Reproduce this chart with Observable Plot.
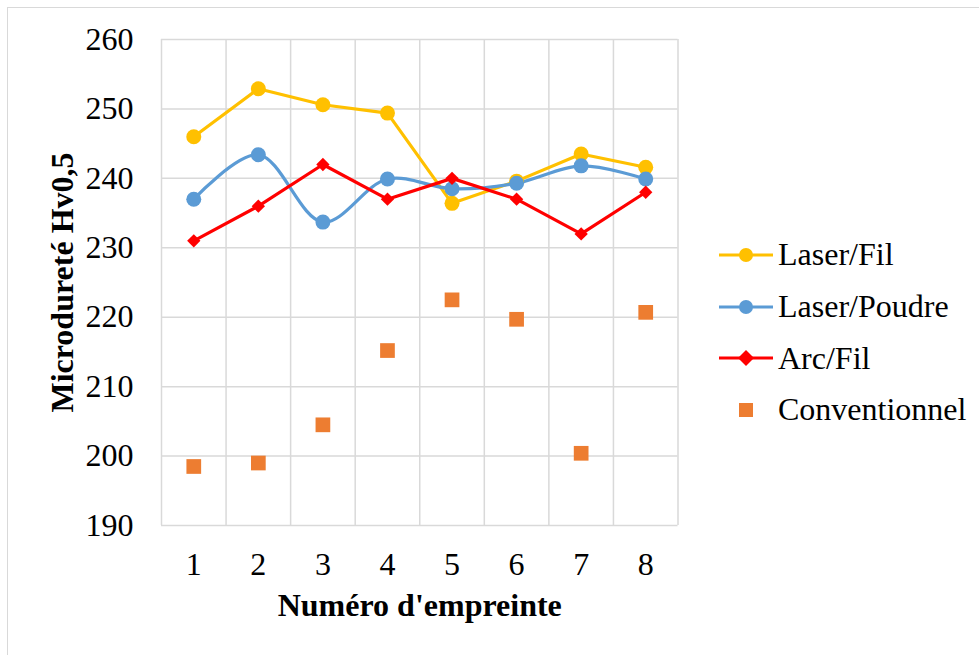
<!DOCTYPE html>
<html>
<head>
<meta charset="utf-8">
<script src="https://cdn.jsdelivr.net/npm/d3@7"></script>
<script src="https://cdn.jsdelivr.net/npm/@observablehq/plot@0.6"></script>
<style>
  html, body { margin: 0; padding: 0; background: #fff; }
  #wrap { position: relative; width: 979px; height: 655px; overflow: hidden; }
  #frame { position: absolute; left: 7px; top: 7px; width: 990px; height: 700px; border: 1.5px solid #d9d9d9; box-sizing: border-box; }
  #legend { position: absolute; left: 718px; top: 229px; font-family: "Liberation Serif", "Times New Roman", serif; font-size: 32px; color: #000; }
  .item { display: flex; align-items: center; height: 51.7px; }
  .item svg { margin-right: 4px; }
</style>
</head>
<body>
<div id="wrap">
  <div id="frame"></div>
  <div id="chart"></div>
  <div id="legend"></div>
</div>
<script>
const categories = [1, 2, 3, 4, 5, 6, 7, 8];
const laserFil    = [246.0, 252.9, 250.6, 249.4, 236.4, 239.6, 243.5, 241.6];
const laserPoudre = [237.0, 243.4, 233.7, 239.9, 238.5, 239.3, 241.8, 239.9];
const arcFil      = [231.0, 236.0, 242.0, 237.0, 240.0, 237.0, 232.0, 238.0];
const conventionnel = [198.5, 199.0, 204.5, 215.2, 222.5, 219.7, 200.4, 220.7];
const yTicks = [190, 200, 210, 220, 230, 240, 250, 260];
const seriesNames = ["Laser/Fil", "Laser/Poudre", "Arc/Fil", "Conventionnel"];
const seriesColors = ["#FFC000", "#5B9BD5", "#FF0000", "#ED7D31"];

const toRows = (vals, name) => categories.map((c, i) => ({x: c, y: vals[i], s: name}));
const rowsLF = toRows(laserFil, seriesNames[0]);
const rowsLP = toRows(laserPoudre, seriesNames[1]);
const rowsAF = toRows(arcFil, seriesNames[2]);
const rowsCV = toRows(conventionnel, seriesNames[3]);
const bandEdges = [categories[0] - 0.5, ...categories.map(c => c + 0.5)];

const font = '"Liberation Serif", "Times New Roman", serif';

const chart = Plot.plot({
  width: 979,
  height: 655,
  marginLeft: 161,
  marginRight: 301.5,
  marginTop: 39,
  marginBottom: 130,
  style: {fontFamily: font, fontSize: "32px", color: "#000", background: "transparent"},
  x: {domain: [categories[0] - 0.5, categories[categories.length - 1] + 0.5], ticks: categories, tickFormat: d => String(d)},
  y: {domain: [yTicks[0], yTicks[yTicks.length - 1]], ticks: yTicks},
  marks: [
    Plot.ruleY(yTicks, {stroke: "#d9d9d9", strokeWidth: 1.5}),
    Plot.ruleX(bandEdges, {stroke: "#d9d9d9", strokeWidth: 1.5}),
    Plot.axisX({ticks: categories, tickSize: 0, tickPadding: 27, label: null, fontSize: 32}),
    Plot.axisY({ticks: yTicks, tickSize: 0, tickPadding: 28, label: null, fontSize: 32}),
    Plot.line(rowsLF, {x: "x", y: "y", stroke: seriesColors[0], strokeWidth: 3.2}),
    Plot.line(rowsLP, {x: "x", y: "y", stroke: seriesColors[1], strokeWidth: 3.2, curve: "catmull-rom"}),
    Plot.line(rowsAF, {x: "x", y: "y", stroke: seriesColors[2], strokeWidth: 3.2}),
    Plot.dot(rowsLF, {x: "x", y: "y", fill: seriesColors[0], r: 7.5, symbol: "circle"}),
    Plot.dot(rowsLP, {x: "x", y: "y", fill: seriesColors[1], r: 7.5, symbol: "circle"}),
    Plot.dot(rowsAF, {x: "x", y: "y", fill: seriesColors[2], r: 6, symbol: "diamond2"}),
    Plot.dot(rowsCV, {x: "x", y: "y", fill: seriesColors[3], r: 8.3, symbol: "square"}),
    Plot.text(["Numéro d'empreinte"], {frameAnchor: "bottom", lineAnchor: "bottom", dy: 90, fontWeight: "bold", fontSize: 32}),
    Plot.text(["Microdureté Hv0,5"], {frameAnchor: "left", textAnchor: "middle", dx: -99, rotate: -90, fontWeight: "bold", fontSize: 32})
  ]
});
document.getElementById("chart").appendChild(chart);

// Legend
const legend = document.getElementById("legend");
const markers = ["circle", "circle", "diamond", "square"];
seriesNames.forEach((name, i) => {
  const item = document.createElement("div");
  item.className = "item";
  const ns = "http://www.w3.org/2000/svg";
  const svg = document.createElementNS(ns, "svg");
  svg.setAttribute("width", 56); svg.setAttribute("height", 20);
  if (markers[i] !== "square") {
    const l = document.createElementNS(ns, "line");
    l.setAttribute("x1", 1); l.setAttribute("x2", 55); l.setAttribute("y1", 10); l.setAttribute("y2", 10);
    l.setAttribute("stroke", seriesColors[i]); l.setAttribute("stroke-width", 3.2);
    svg.appendChild(l);
  }
  if (markers[i] === "circle") {
    const c = document.createElementNS(ns, "circle");
    c.setAttribute("cx", 28); c.setAttribute("cy", 10); c.setAttribute("r", 7);
    c.setAttribute("fill", seriesColors[i]); svg.appendChild(c);
  } else if (markers[i] === "diamond") {
    const p = document.createElementNS(ns, "path");
    p.setAttribute("d", "M28,2L36,10L28,18L20,10Z");
    p.setAttribute("fill", seriesColors[i]); svg.appendChild(p);
  } else {
    const r = document.createElementNS(ns, "rect");
    r.setAttribute("x", 21); r.setAttribute("y", 3); r.setAttribute("width", 14); r.setAttribute("height", 14);
    r.setAttribute("fill", seriesColors[i]); svg.appendChild(r);
  }
  item.appendChild(svg);
  const t = document.createElement("span");
  t.textContent = name;
  item.appendChild(t);
  legend.appendChild(item);
});
</script>
</body>
</html>
